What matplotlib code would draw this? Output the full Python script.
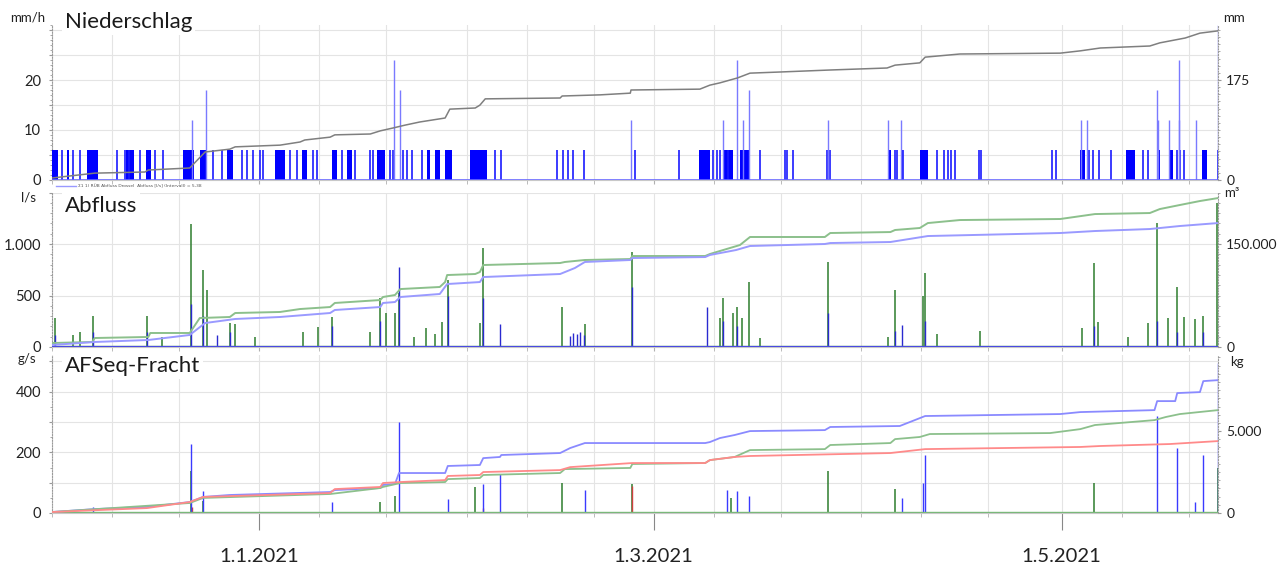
import datetime as dt
import matplotlib
matplotlib.use("Agg")
import matplotlib.pyplot as plt
import matplotlib.dates as mdates
from matplotlib.ticker import FixedLocator, MultipleLocator

plt.rcParams['font.family'] = ['Lato', 'DejaVu Sans']

START = dt.datetime(2020, 12, 1)
END_DAY = 174.4
x0 = mdates.date2num(START)

# ---------------- Niederschlag (days since 1.12.2020) ----------------
rain_block_start = [0.0, 2.2, 5.2, 11.1, 14.1, 19.6, 22.1, 26.2, 33.4, 37.4, 41.9, 44.1,
                    48.6, 56.1, 57.3, 58.8, 62.5, 96.8, 100.4, 102.9, 125.1, 129.8,
                    153.8, 160.7, 165.3, 167.0, 172.0]
rain_block_end = [0.9, 2.5, 6.9, 12.3, 14.8, 21.2, 23.2, 27.1, 34.9, 38.1, 42.6, 44.9,
                  49.8, 56.5, 58.0, 59.8, 65.1, 98.4, 101.9, 104.4, 125.5, 131.0,
                  154.5, 162.0, 165.7, 167.7, 172.8]
rain_block_mmh = 6
rain_single_days = [1.5, 3.1, 4.2, 9.7, 10.9, 11.5, 13.2, 15.4, 16.6, 24.1, 25.4, 28.4,
                    29.2, 30.1, 31.1, 31.6, 35.6, 36.6, 39.0, 39.6, 43.4, 45.3, 47.6,
                    48.0, 50.6, 51.0, 52.5, 53.1, 53.9, 55.3, 66.3, 67.2, 75.5, 76.4,
                    77.2, 77.9, 79.6, 87.2, 93.8, 98.9, 99.5, 99.9, 101.1, 105.9, 109.6,
                    109.9, 110.8, 115.9, 116.4, 126.1, 126.4, 127.1, 127.3, 132.4, 133.4,
                    134.0, 134.5, 135.1, 138.7, 139.0, 149.6, 150.2, 155.1, 155.7, 156.6,
                    158.4, 163.2, 163.9, 168.3, 168.7, 169.3, 174.4]
rain_single_mmh = 6
rain_spike_days = [20.9, 23.0, 51.1, 52.0, 86.6, 100.4, 102.5, 103.4, 104.3, 116.1,
                   125.1, 127.0, 153.9, 154.8, 165.3, 165.4, 167.1, 168.5, 168.6, 171.1, 174.4]
rain_spike_mmh = [12, 18, 24, 18, 12, 12, 24, 12, 18, 12,
                  12, 12, 12, 12, 18, 12, 12, 24, 12, 12, 31]
rain_cum_days = [0, 6.4, 13.9, 14.4, 20.6, 22.9, 26.6, 27.4, 34.1, 37.1, 37.8, 41.6, 42.3,
                 47.6, 49.1, 51.0, 52.8, 55.0, 58.8, 59.5, 63.3, 64.0, 64.8, 76.0, 76.3,
                 82.0, 86.5, 86.6, 96.9, 98.4, 99.9, 102.5, 104.4, 108.9, 116.4, 124.9,
                 126.1, 129.8, 130.6, 135.8, 150.8, 153.8, 156.8, 164.2, 165.7, 169.5,
                 171.7, 174.4]
rain_cum_mm = [3.5, 12, 14, 17.5, 21, 49, 54, 58, 61, 66.5, 70, 75, 79, 80.5, 86, 91, 96,
               101.5, 108.5, 124, 126, 131, 142, 143.5, 147, 149, 152, 157.5, 159, 166,
               170, 178.5, 187, 189, 192.5, 196, 201, 205, 215, 220.5, 222, 226, 231,
               234.5, 240, 248.5, 257, 261]

# ---------------- Abfluss ----------------
flow_green_days = [0.45, 3.1, 4.2, 6.1, 14.2, 16.5, 20.8, 22.6, 23.2, 26.6, 27.4, 30.4,
                   37.5, 39.8, 41.9, 47.6, 49.1, 50.0, 51.3, 51.9, 54.2, 55.9, 57.3, 58.3,
                   59.2, 64.0, 64.5, 76.3, 79.7, 86.8, 99.9, 100.4, 101.9, 102.5, 103.2,
                   104.3, 105.9, 116.1, 125.1, 126.1, 130.3, 130.6, 132.4, 138.8, 154.1,
                   155.9, 156.5, 161.0, 163.9, 165.3, 166.9, 168.3, 169.3, 171.0, 172.2, 174.3]
flow_green_ls = [280, 115, 145, 300, 300, 100, 1190, 750, 550, 230, 220, 100,
                 150, 190, 290, 145, 480, 330, 330, 520, 100, 180, 130, 240,
                 650, 230, 960, 390, 220, 920, 280, 480, 330, 390, 280,
                 630, 90, 825, 100, 550, 500, 720, 130, 160, 185,
                 815, 240, 95, 230, 1200, 280, 580, 290, 270, 300, 1400]
flow_blue_days = [0.45, 6.1, 14.2, 20.8, 22.6, 24.7, 26.6, 41.9, 49.1, 51.9, 59.2, 64.5,
                  67.0, 77.5, 78.0, 78.5, 79.0, 79.5, 86.8, 98.0, 100.4, 102.5, 116.1,
                  126.1, 127.2, 130.6, 155.9, 165.3, 168.3, 172.2]
flow_blue_ls = [120, 150, 150, 420, 300, 120, 150, 200, 250, 780, 500, 480,
                220, 110, 140, 130, 150, 120, 580, 390, 250, 200, 330,
                160, 210, 250, 200, 250, 150, 150]
flow_base_green = 12
flow_base_blue = 5

vol_green_days = [0, 6.0, 6.4, 14.4, 14.7, 20.6, 22.1, 26.6, 27.4, 34.1, 37.1, 41.6, 42.3,
                  49.1, 49.5, 51.3, 52.1, 58.0, 58.8, 59.1, 63.3, 64.0, 64.5, 76.0, 76.7,
                  79.7, 86.5, 86.8, 97.7, 98.4, 99.9, 102.9, 104.4, 115.6, 116.4, 125.4,
                  126.1, 129.8, 131.0, 135.8, 150.8, 156.0, 164.2, 165.7, 168.7, 171.7, 174.4]
vol_green_m3 = [5800, 7300, 13100, 14600, 20400, 20400, 42200, 43700, 49500, 51000, 55300,
                58200, 64100, 68400, 72800, 75700, 84400, 87400, 94600, 104800, 106300,
                109200, 119400, 122300, 123800, 126700, 128100, 132500, 132500, 135400,
                139800, 148500, 160200, 160200, 166000, 167400, 170400, 173300, 180500,
                184900, 186400, 193600, 195100, 200900, 206800, 212600, 216900]
vol_blue_days = [0, 6.4, 14.4, 20.6, 22.9, 27.4, 34.1, 41.6, 42.3, 49.1, 49.5, 51.3, 52.1,
                 58.0, 59.1, 64.0, 64.5, 76.0, 78.2, 79.7, 86.5, 86.8, 97.7, 98.4, 102.3,
                 104.4, 115.6, 116.4, 125.4, 131.0, 150.8, 156.0, 164.2, 168.7, 174.4]
vol_blue_m3 = [2900, 7300, 10200, 17500, 34900, 40800, 43700, 49500, 53900, 58200, 64100,
               65500, 72800, 77200, 91700, 94600, 101900, 106300, 115000, 123800, 126700,
               129600, 131000, 134000, 141200, 147100, 150000, 151400, 152900, 161600,
               166000, 168900, 171800, 176200, 180500]

# ---------------- AFSeq-Fracht ----------------
load_blue_days = [6.1, 20.8, 22.6, 41.9, 51.9, 59.2, 64.5, 67.0, 79.7, 100.9, 102.5,
                  104.3, 127.2, 130.3, 130.6, 165.3, 168.3, 171.0, 172.2, 174.4]
load_blue_gs = [20, 228, 72, 35, 300, 45, 95, 130, 75, 75, 72,
                55, 50, 100, 190, 320, 215, 35, 190, 495]
load_green_days = [20.8, 22.6, 49.1, 51.3, 63.3, 76.3, 86.8, 101.6, 116.1, 126.1, 155.9, 174.4]
load_green_gs = [140, 40, 35, 55, 85, 100, 95, 50, 140, 80, 100, 150]
load_red_days = [86.8, 20.9, 64.4]
load_red_gs = [90, 20, 15]

mass_blue_days = [0, 6.4, 14.2, 20.6, 22.6, 26.6, 41.6, 42.3, 49.1, 49.5, 51.3, 51.9, 58.8,
                  59.2, 64.0, 64.5, 67.0, 67.2, 76.0, 77.5, 79.7, 97.7, 98.4, 99.9, 102.1,
                  104.4, 115.6, 116.4, 126.8, 130.6, 150.8, 153.8, 164.9, 165.3, 168.0,
                  168.3, 171.7, 172.2, 174.4]
mass_blue_kg = [60, 240, 370, 670, 980, 1100, 1280, 1400, 1525, 1710, 1770, 2440, 2440,
                2870, 2930, 3350, 3420, 3540, 3660, 3965, 4270, 4270, 4330, 4575, 4760,
                5000, 5060, 5250, 5310, 5920, 6040, 6160, 6280, 6830, 6830, 7320, 7380,
                8050, 8110]
mass_red_days = [0, 14.2, 20.6, 22.6, 41.6, 42.3, 49.1, 49.5, 52.1, 58.8, 59.2, 64.0, 64.5,
                 76.0, 77.5, 86.8, 97.7, 98.4, 102.1, 104.4, 125.4, 130.6, 153.8, 156.8,
                 167.2, 174.4]
mass_red_kg = [60, 300, 670, 980, 1220, 1460, 1590, 1830, 1890, 2010, 2260, 2320, 2500,
               2620, 2800, 3050, 3050, 3230, 3420, 3480, 3660, 3900, 4030, 4090, 4210, 4390]
mass_green_days = [0, 20.6, 22.6, 41.6, 49.1, 49.5, 52.1, 58.8, 59.2, 64.0, 64.5, 76.0,
                   76.7, 86.5, 86.8, 97.7, 98.4, 102.1, 104.4, 115.6, 116.4, 125.4, 126.1,
                   129.8, 131.3, 149.3, 153.8, 156.0, 164.9, 166.6, 168.7, 174.4]
mass_green_kg = [60, 610, 920, 1160, 1525, 1590, 1830, 1890, 2070, 2135, 2320, 2440, 2680,
                 2750, 2990, 3050, 3230, 3420, 3840, 3900, 4150, 4270, 4510, 4640, 4820,
                 4880, 5120, 5370, 5670, 5860, 6040, 6280]

# axis labels
date_ticks = [dt.datetime(2021, 1, 1), dt.datetime(2021, 3, 1), dt.datetime(2021, 5, 1)]
date_labels = ['1.1.2021', '1.3.2021', '1.5.2021']


def dx(days):
    return [x0 + d for d in days]


GRID = '#e4e4e4'
SPINE = '#9a9a9a'
TXT = '#222222'


def style(ax, yticks, ylabels, ymax, minor_step):
    ax.set_ylim(0, ymax)
    ax.yaxis.set_major_locator(FixedLocator(yticks))
    ax.set_yticklabels(ylabels)
    ax.yaxis.set_minor_locator(MultipleLocator(minor_step))
    ax.grid(axis='y', which='major', color=GRID, lw=0.8)
    ax.grid(axis='x', which='both', color=GRID, lw=0.8)
    ax.set_axisbelow(True)
    for s in ['top', 'right']:
        ax.spines[s].set_visible(False)
    ax.spines['left'].set_color(SPINE)
    ax.spines['left'].set_linestyle((0, (1, 1.5)))
    ax.spines['bottom'].set_color('#c8c8c8')
    ax.tick_params(axis='y', which='major', length=2, color=SPINE, labelsize=10.5,
                   labelcolor=TXT, pad=6)
    ax.tick_params(axis='y', which='minor', length=1.5, color=SPINE)
    ax.tick_params(axis='x', which='minor', length=3, color='#b0b0b0')


def style_right(axr, ticks, labels, ymax, minor_step):
    axr.set_ylim(0, ymax)
    axr.yaxis.set_major_locator(FixedLocator(ticks))
    axr.set_yticklabels(labels)
    axr.yaxis.set_minor_locator(MultipleLocator(minor_step))
    for s in ['top', 'left', 'bottom']:
        axr.spines[s].set_visible(False)
    axr.spines['right'].set_color(SPINE)
    axr.spines['right'].set_linestyle((0, (1, 1.5)))
    axr.tick_params(axis='y', which='major', length=2, color=SPINE, labelsize=10,
                    labelcolor=TXT, pad=4)
    axr.tick_params(axis='y', which='minor', length=1.5, color=SPINE)


fig = plt.figure(figsize=(12.78, 5.69), dpi=100)
L, W = 52 / 1278, 1166 / 1278
ax1 = fig.add_axes([L, 1 - 180 / 569, W, 155 / 569])
ax2 = fig.add_axes([L, 1 - 347 / 569, W, 154.5 / 569], sharex=ax1)
ax3 = fig.add_axes([L, 1 - 513 / 569, W, 157.6 / 569], sharex=ax1)

ax1.set_xlim(x0, x0 + END_DAY)
for ax in (ax1, ax2, ax3):
    ax.xaxis.set_minor_locator(mdates.DayLocator(bymonthday=[1, 10, 20]))
    ax.xaxis.set_major_locator(FixedLocator(mdates.date2num(date_ticks)))

# ---- panel 1
style(ax1, [0, 5, 10, 15, 20, 25, 30], ['0', '', '10', '', '20', '', ''], 31, 1)
bstart = dx(rain_block_start)
widths = [e - s for s, e in zip(rain_block_start, rain_block_end)]
ax1.bar(bstart, [rain_block_mmh] * len(bstart), width=widths, align='edge',
        color='#0000ff', lw=0, zorder=3)
ax1.vlines(dx(rain_single_days), 0, rain_single_mmh, color='#1a1aff', lw=1.2, zorder=3)
ax1.vlines(dx(rain_spike_days), 0, rain_spike_mmh, color='#7a7aff', lw=1.0, zorder=3)
ax1.axhline(0, color='#6a6aff', lw=1.2, zorder=3)
ax1r = ax1.twinx()
ax1r.plot(dx(rain_cum_days), rain_cum_mm, color='#7f7f7f', lw=1.1)
style_right(ax1r, [0, 175], ['0', '175'], 31 * 8.75, 12.5)
ax1.tick_params(axis='x', which='both', labelbottom=False)
ax1.tick_params(axis='x', which='major', length=3, color='#b0b0b0')

# legend strip below panel 1
fig.lines.append(plt.Line2D([56 / 1278, 76 / 1278], [1 - 186 / 569] * 2,
                            transform=fig.transFigure, color='#9999ff', lw=1))
fig.text(78 / 1278, 1 - 186 / 569, 'Σ1 1) RÜB Abfluss Drossel  Abfluss [l/s] (Intervall) = 5,38',
         fontsize=3.2, color='#555555', va='center', family='DejaVu Sans')

# ---- panel 2
style(ax2, [0, 500, 1000, 1500], ['0', '500', '1.000', ''], 1500, 100)
ax2.vlines(dx(flow_green_days), flow_base_green, flow_green_ls, color='#2e7d2e', lw=1.1, zorder=3)
ax2.vlines(dx(flow_blue_days), flow_base_blue, flow_blue_ls, color='#2a2ad0', lw=1.0, zorder=3)
ax2.plot(dx([0, END_DAY]), [flow_base_green] * 2, color='#5aa05a', lw=1.0, zorder=3)
ax2.plot(dx([0, END_DAY]), [flow_base_blue] * 2, color='#4a4ae0', lw=0.8, zorder=3)
ax2r = ax2.twinx()
ax2r.plot(dx(vol_green_days), vol_green_m3, color='#8cc08c', lw=1.4)
ax2r.plot(dx(vol_blue_days), vol_blue_m3, color='#9a9aff', lw=1.4)
style_right(ax2r, [0, 150000], ['0', '150.000'], 225000, 15000)
ax2.tick_params(axis='x', which='both', labelbottom=False)
ax2.tick_params(axis='x', which='major', length=3, color='#b0b0b0')

# ---- panel 3
style(ax3, [0, 100, 200, 300, 400, 500], ['0', '', '200', '', '400', ''], 520, 50)
ax3.vlines(dx(load_green_days), 2, load_green_gs, color='#2e7d2e', lw=1.1, zorder=3)
ax3.vlines(dx(load_red_days), 2, load_red_gs, color='#d04040', lw=1.0, zorder=3)
ax3.vlines(dx(load_blue_days), 2, load_blue_gs, color='#3a3aff', lw=1.0, zorder=3)
ax3.plot(dx([0, END_DAY]), [2, 2], color='#7ab87a', lw=1.0, zorder=3)
ax3r = ax3.twinx()
ax3r.plot(dx(mass_blue_days), mass_blue_kg, color='#8a8aff', lw=1.3)
ax3r.plot(dx(mass_green_days), mass_green_kg, color='#8cc08c', lw=1.3)
ax3r.plot(dx(mass_red_days), mass_red_kg, color='#ff8a8a', lw=1.3)
style_right(ax3r, [0, 5000], ['0', '5.000'], 520 * 18.5, 500)
ax3.set_xticklabels(date_labels)
ax3.tick_params(axis='x', which='major', length=12, color='#888888', labelsize=14.5,
                labelcolor=TXT, pad=13)

# titles and units
title_kw = dict(fontsize=16, color='#1a1a1a', va='center', ha='left',
                bbox=dict(facecolor='white', edgecolor='none', pad=2))
fig.text(65 / 1278, 1 - 22 / 569, 'Niederschlag', **title_kw)
fig.text(65 / 1278, 1 - 206 / 569, 'Abfluss', **title_kw)
fig.text(65 / 1278, 1 - 366 / 569, 'AFSeq-Fracht', **title_kw)
unit_kw = dict(fontsize=9.5, color=TXT, va='center')
fig.text(45 / 1278, 1 - 18 / 569, 'mm/h', ha='right', **unit_kw)
fig.text(36 / 1278, 1 - 198 / 569, 'l/s', ha='right', **unit_kw)
fig.text(36 / 1278, 1 - 359 / 569, 'g/s', ha='right', **unit_kw)
fig.text(1223 / 1278, 1 - 18 / 569, 'mm', ha='left', **unit_kw)
fig.text(1224 / 1278, 1 - 193 / 569, 'm³', ha='left', **unit_kw)
fig.text(1230 / 1278, 1 - 362 / 569, 'kg', ha='left', **unit_kw)

fig.savefig('out.png', dpi=100)
